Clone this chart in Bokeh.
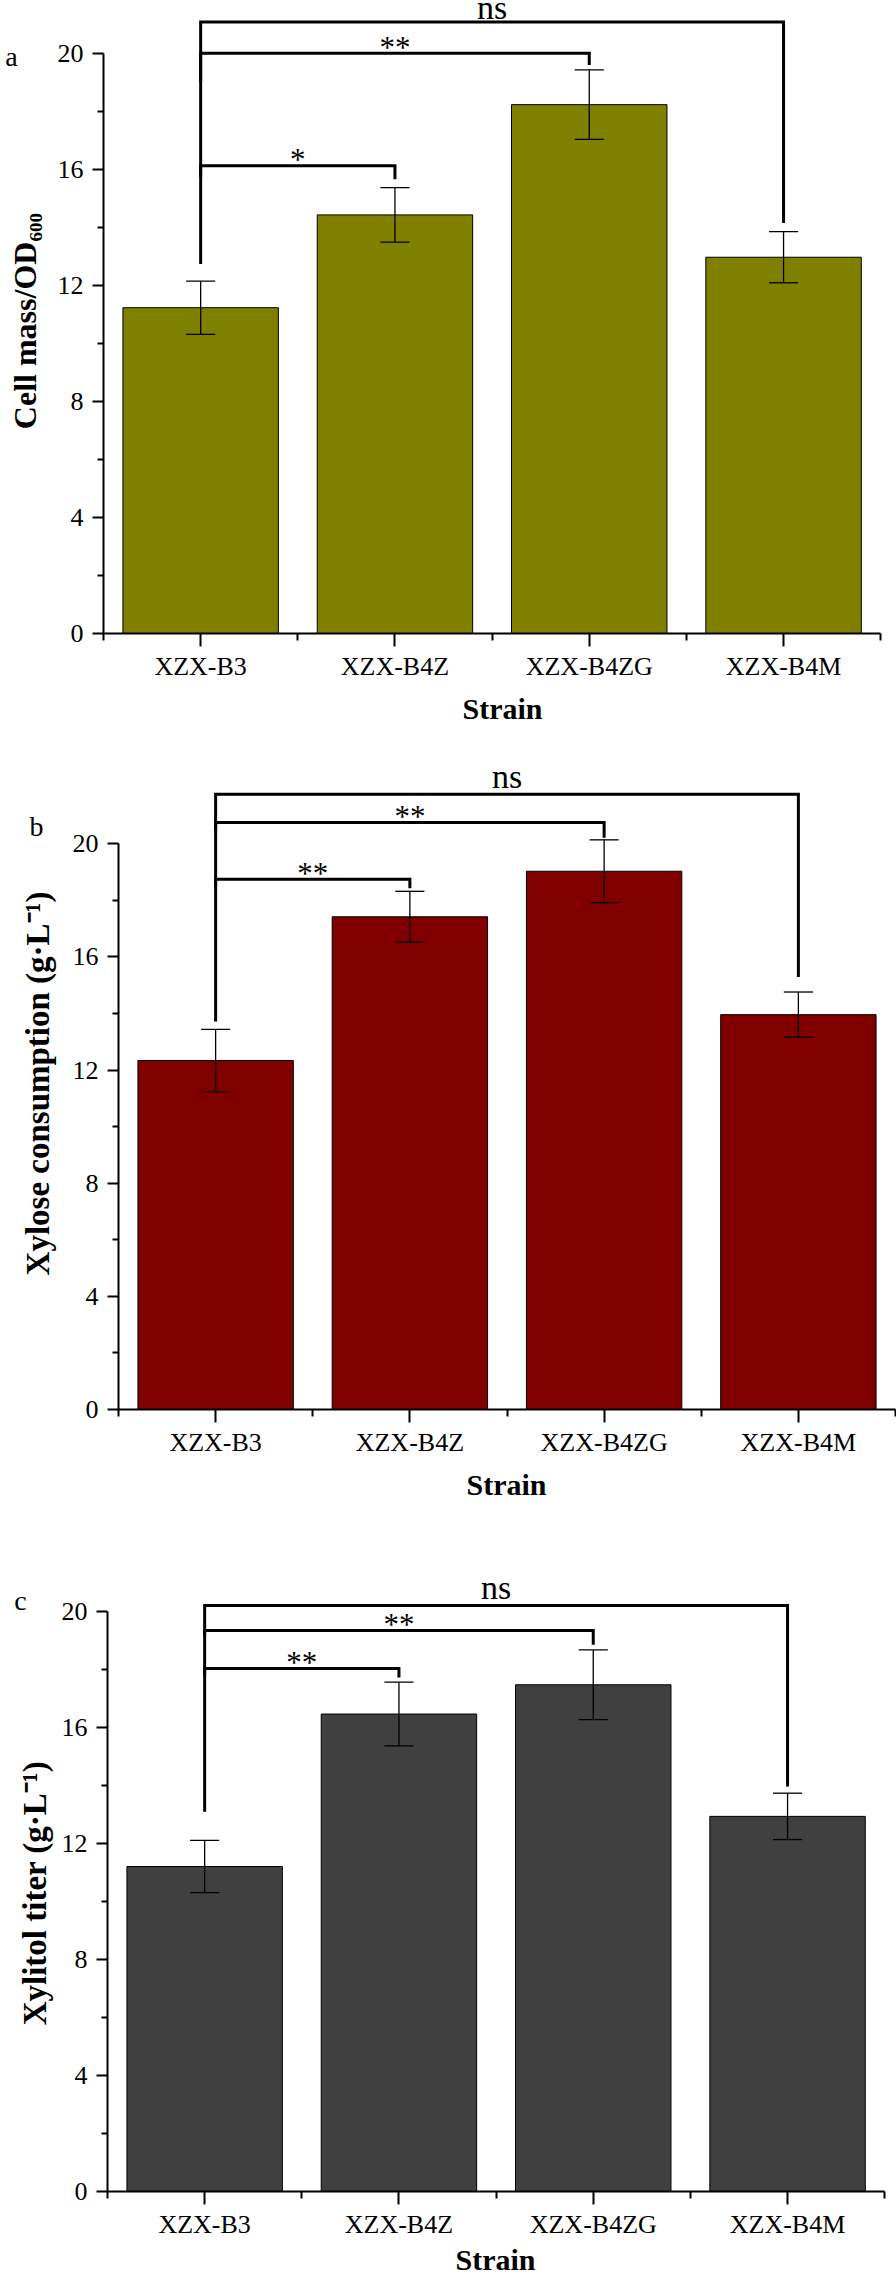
from bokeh.plotting import figure
from bokeh.models import Range1d, FixedTicker, LinearAxis
from bokeh.layouts import column
from bokeh.embed import file_html
from bokeh.resources import INLINE
from bokeh.core.properties import value

# ---------------- data ----------------
strains = ["XZX-B3", "XZX-B4Z", "XZX-B4ZG", "XZX-B4M"]
positions = [1, 2, 3, 4]

cell_mass = [11.23, 14.43, 18.23, 12.97]
cell_mass_err = [0.92, 0.94, 1.20, 0.88]

xylose = [12.34, 17.42, 19.03, 13.96]
xylose_err = [1.10, 0.90, 1.11, 0.80]

xylitol = [11.21, 16.47, 17.48, 12.94]
xylitol_err = [0.90, 1.10, 1.20, 0.80]

y_ticks = [0, 4, 8, 12, 16, 20]
y_minor_ticks = [2, 6, 10, 14, 18]

# significance brackets: from XZX-B3 (position 1) to the target strain
sig_to = [2, 3, 4]
sig_labels_a = ["*", "**", "ns"]
sig_labels_b = ["**", "**", "ns"]
sig_labels_c = ["**", "**", "ns"]

a_br_top = [16.12, 20.0, 21.08]
a_br_left = [12.74, 15.74, 19.0]
a_br_right = [15.66, 19.6, 14.15]

b_br_top = [18.75, 20.75, 21.75]
b_br_left = [13.72, 18.5, 20.5]
b_br_right = [18.43, 20.21, 15.29]

c_br_top = [18.04, 19.35, 20.21]
c_br_left = [13.1, 17.8, 19.2]
c_br_right = [17.73, 18.86, 13.97]

titles = ["Cell mass/OD\u2086\u2080\u2080",
          "Xylose consumption (g\u00b7L\u207b\u00b9)",
          "Xylitol titer (g\u00b7L\u207b\u00b9)"]

FONT = "Liberation Serif"
W = 896


def panel(vals, errs, color, br_top, br_left, br_right, labels, title,
          letter, height, axis_px, ppu_x, zero_px, ppu_y,
          title_mid, title_gap, title_size, letter_px, strain_px,
          ns_lift, star_lift):
    """axis_px: page-x of the y axis (x = 0.5); zero_px: y-pixel (from top
    of this figure) of value 0."""
    x0 = 0.5 - axis_px / ppu_x
    x1 = x0 + W / ppu_x
    y1 = zero_px / ppu_y
    y0 = -(height - zero_px) / ppu_y
    p = figure(width=W, height=height,
               x_range=Range1d(x0, x1), y_range=Range1d(y0, y1),
               output_backend="svg", toolbar_location=None, min_border=0)
    p.min_border_left = p.min_border_right = 0
    p.min_border_top = p.min_border_bottom = 0
    p.outline_line_color = None
    p.grid.visible = False

    def px2x(px):
        return x0 + px / ppu_x

    def px2y(py):
        return (zero_px - py) / ppu_y

    # bars
    p.vbar(x=positions, top=vals, width=0.8, fill_color=color,
           line_color="black", line_width=1)

    # error bars
    lo = [v - e for v, e in zip(vals, errs)]
    hi = [v + e for v, e in zip(vals, errs)]
    cw = 0.075
    p.segment(x0=positions, y0=lo, x1=positions, y1=hi,
              line_color="black", line_width=1.3)
    p.segment(x0=[x - cw for x in positions], y0=hi,
              x1=[x + cw for x in positions], y1=hi,
              line_color="black", line_width=1.3)
    p.segment(x0=[x - cw for x in positions], y0=lo,
              x1=[x + cw for x in positions], y1=lo,
              line_color="black", line_width=1.3)

    # significance brackets
    xs, ys = [], []
    for t, lb, rb, to in zip(br_top, br_left, br_right, sig_to):
        xs.append([1, 1, to, to])
        ys.append([lb, t, t, rb])
    p.multi_line(xs=xs, ys=ys, line_color="black", line_width=3,
                 line_join="miter")

    star_x, star_y, star_t = [], [], []
    ns_x, ns_y, ns_t = [], [], []
    for t, to, lab in zip(br_top, sig_to, labels):
        if lab == "ns":
            ns_x.append((1 + to) / 2)
            ns_y.append(t + ns_lift / ppu_y)
            ns_t.append(lab)
        else:
            star_x.append((1 + to) / 2)
            star_y.append(t + star_lift / ppu_y)
            star_t.append(lab)
    p.text(x=star_x, y=star_y, text=star_t, text_font=value(FONT),
           text_font_size="31px", text_align="center",
           text_baseline="alphabetic", text_color="black")
    p.text(x=ns_x, y=ns_y, text=ns_t, text_font=value(FONT),
           text_font_size="34px", text_align="center",
           text_baseline="alphabetic", text_color="black")

    # panel letter and x title
    p.text(x=[px2x(letter_px[0])], y=[px2y(letter_px[1])], text=[letter],
           text_font=value(FONT), text_font_size="28px",
           text_align="center", text_baseline="alphabetic",
           text_color="black")
    p.text(x=[px2x(strain_px[0])], y=[px2y(strain_px[1])], text=["Strain"],
           text_font=value(FONT), text_font_size="30px",
           text_font_style="bold", text_align="center",
           text_baseline="alphabetic", text_color="black")

    # axes pinned inside the frame
    yax = p.yaxis[0]
    yax.fixed_location = 0.5
    yax.ticker = FixedTicker(ticks=y_ticks, minor_ticks=y_minor_ticks)
    yax.bounds = (0, 20)
    xax = p.xaxis[0]
    xax.fixed_location = 0
    xax.bounds = (0.5, 4.5)
    xax.ticker = FixedTicker(ticks=positions,
                             minor_ticks=[0.5, 1.5, 2.5, 3.5, 4.5])
    xax.major_label_overrides = {pos: s for pos, s in zip(positions, strains)}
    for ax in (xax, yax):
        ax.axis_line_width = 2
        ax.axis_line_color = "black"
        ax.major_tick_line_width = 2
        ax.minor_tick_line_width = 2
        ax.major_tick_line_color = "black"
        ax.minor_tick_line_color = "black"
        ax.major_tick_in = 0
        ax.minor_tick_in = 0
        ax.major_label_text_font = FONT
        ax.major_label_text_font_size = "26px"
        ax.major_label_text_color = "black"
    yax.major_tick_out = 11
    yax.minor_tick_out = 6
    yax.major_label_standoff = 9
    xax.major_tick_out = 13
    xax.minor_tick_out = 7
    xax.major_label_standoff = 5

    # y title carried by a tick-less axis, centred where the original is
    tax = LinearAxis(fixed_location=0.5, ticker=FixedTicker(ticks=[]),
                     bounds=(0, 2 * title_mid), axis_line_color=None,
                     major_tick_out=0, minor_tick_out=0,
                     major_tick_in=0, minor_tick_in=0,
                     major_label_standoff=0,
                     axis_label=title, axis_label_standoff=title_gap,
                     axis_label_text_font=FONT,
                     axis_label_text_font_size=title_size,
                     axis_label_text_font_style="bold",
                     axis_label_text_color="black")
    p.add_layout(tax, "left")
    return p


# figure a: page y 0-740, figure b: 740-1550, figure c: 1550-2274
pa = panel(cell_mass, cell_mass_err, "#808000",
           a_br_top, a_br_left, a_br_right, sig_labels_a, titles[0], "a",
           height=740, axis_px=103, ppu_x=194.3, zero_px=633, ppu_y=29.01,
           title_mid=10.77, title_gap=61, title_size="32px",
           letter_px=(11, 56), strain_px=(502, 708),
           ns_lift=14, star_lift=6)

pb = panel(xylose, xylose_err, "#800000",
           b_br_top, b_br_left, b_br_right, sig_labels_b, titles[1], "b",
           height=810, axis_px=118, ppu_x=194.25, zero_px=669, ppu_y=28.285,
           title_mid=11.53, title_gap=63, title_size="33px",
           letter_px=(36, 86), strain_px=(506, 744),
           ns_lift=18, star_lift=6)

pc = panel(xylitol, xylitol_err, "#404040",
           c_br_top, c_br_left, c_br_right, sig_labels_c, titles[2], "c",
           height=724, axis_px=107, ppu_x=194.3, zero_px=641, ppu_y=28.99,
           title_mid=10.30, title_gap=55, title_size="33px",
           letter_px=(20, 50), strain_px=(495, 709),
           ns_lift=18, star_lift=6)

layout = column(pa, pb, pc, spacing=0)
open("out.html", "w").write(file_html(layout, INLINE))
